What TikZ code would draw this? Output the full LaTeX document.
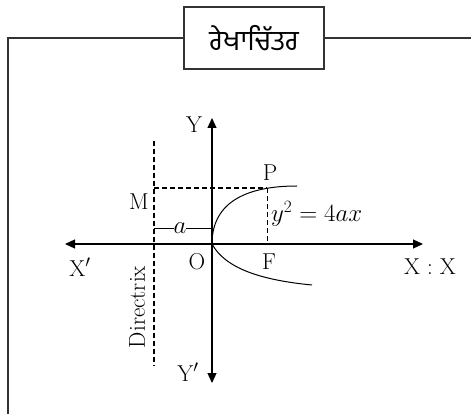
\documentclass[tikz,border=0pt]{standalone}
\usepackage{fontspec}
\newfontfamily\gurfont[Script=Gurmukhi]{Hind Jalandhar}
\usetikzlibrary{arrows.meta}
\begin{document}
\begin{tikzpicture}[x=1pt,y=-1pt,
  frame/.style={line width=1.2pt,draw=black!80},
  axis/.style={line width=1.2pt,-{Triangle[length=10pt,width=9pt]}},
  dsh/.style={line width=1.6pt,dash pattern=on 5pt off 3pt},
  curve/.style={line width=1pt},
  lbl/.style={font=\fontsize{23}{26}\selectfont,inner sep=0pt}]
\useasboundingbox (0,0) rectangle (471,414);
% frame
\coordinate (fbl) at (8,414);
\coordinate (ftl) at (8,38);
\coordinate (ftr) at (471,38);
\node[frame,draw,fill=white,minimum width=140pt,minimum height=62pt,inner sep=0pt,
  font=\gurfont\fontsize{28}{30}\selectfont] (title) at (254,38) {ਰੇਖਾਚਿੱਤਰ};
\draw[frame] (fbl) -- (ftl) -- (title.west);
\draw[frame] (title.east) -- (ftr);
% points
\coordinate (O) at (212,244);
\coordinate (Xl) at (65,244);
\coordinate (Xr) at (423,244);
\coordinate (Yt) at (212,118);
\coordinate (Yb) at (212,383);
\coordinate (Dt) at (154,141);
\coordinate (Db) at (154,366);
\coordinate (Mp) at (154,188);
\coordinate (Pp) at (267,188);
\coordinate (Fp) at (267,244);
\coordinate (Da) at (154,228);
\coordinate (Oa) at (212,228);
\coordinate (Ue) at (297,186);
\coordinate (Le) at (312,285);
% axes
\draw[axis] (O) -- (Xl);
\draw[axis] (O) -- (Xr);
\draw[axis] (O) -- (Yt);
\draw[axis] (O) -- (Yb);
% dashed lines
\draw[dsh] (Dt) -- (Db);
\draw[dsh] (Mp) -- (Pp);
\draw[dsh,line width=1pt] (Pp) -- (Fp);
% parabola
\draw[curve] (O) .. controls (212,200) and (250,186) .. (Ue);
\draw[curve] (O) .. controls (225,268) and (260,280) .. (Le);
% a dimension
\draw[line width=1pt] (Da) -- node[pos=0.45,fill=white,inner sep=2pt,lbl] (alab) {$a$} (Oa);
% labels
\node[lbl] (Ylab) at (194,125) {Y};
\node[lbl] (Yplab) at (188,372) {Y$'$};
\node[lbl] (Xplab) at (80,267) {X$'$};
\node[lbl] (Xlab) at (430,267) {X : X};
\node[lbl] (Olab) at (197,262) {O};
\node[lbl] (Flab) at (269,262) {F};
\node[lbl] (Mlab) at (139,202) {M};
\node[lbl] (Plab) at (270,173) {P};
\node[lbl,anchor=west] (eq) at (271,214) {$y^{2} = 4ax$};
\node[lbl,rotate=90] (dir) at (137,307) {Directrix};
\end{tikzpicture}
\end{document}
